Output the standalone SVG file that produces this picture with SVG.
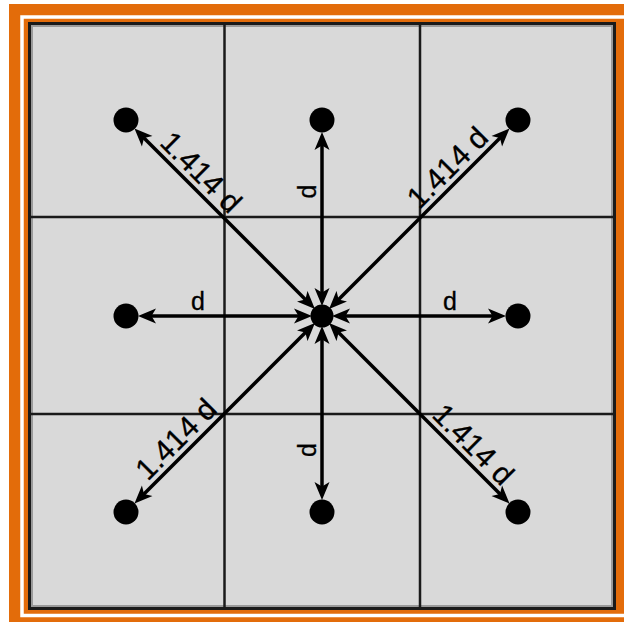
<svg xmlns="http://www.w3.org/2000/svg" width="624" height="625" viewBox="0 0 624 625">
<style>
.grid{stroke:#1a1a1a;stroke-width:2.5;fill:none}
.conn{stroke:#000;stroke-width:3.5;fill:none;marker-start:url(#ah);marker-end:url(#ah)}
.dot{fill:#000}
.lbl{font-family:"Liberation Sans",Arial,sans-serif;font-size:25px;fill:#000;text-anchor:middle;stroke:#000;stroke-width:0.3}
.dlbl{font-family:"Liberation Sans",Arial,sans-serif;font-size:30px;fill:#000;text-anchor:middle;stroke:#000;stroke-width:0.3}
</style>
<defs>
<marker id="ah" viewBox="0 -8 18 16" refX="7" refY="0" markerWidth="18" markerHeight="16" markerUnits="userSpaceOnUse" orient="auto-start-reverse">
<path d="M0,-7.5 L18,0 L0,7.5 L4.5,0 Z" fill="#000"/>
</marker>
</defs>
<g id="frame">
<rect x="9" y="4" width="620" height="618" fill="#E36C0A"/>
<rect x="22" y="17" width="620" height="598.5" fill="none" stroke="#fff" stroke-width="3.5"/>
<rect x="29.5" y="23.5" width="585" height="585" fill="#D9D9D9" stroke="#1a1a1a" stroke-width="3"/>
<rect x="32" y="26" width="580" height="580" fill="none" stroke="#9a9a9a" stroke-width="2"/>
</g>
<g id="grid">
<line class="grid" x1="224.5" y1="24" x2="224.5" y2="608"/>
<line class="grid" x1="420" y1="24" x2="420" y2="608"/>
<line class="grid" x1="30" y1="217" x2="614" y2="217"/>
<line class="grid" x1="30" y1="414" x2="614" y2="414"/>
</g>
<g id="connectors">
<line class="conn" x1="142.26" y1="136.26" x2="307.15" y2="301.15"/>
<line class="conn" x1="501.74" y1="136.26" x2="336.85" y2="301.15"/>
<line class="conn" x1="142.26" y1="495.74" x2="307.15" y2="330.85"/>
<line class="conn" x1="501.74" y1="495.74" x2="336.85" y2="330.85"/>
<line class="conn" x1="322" y1="143" x2="322" y2="295"/>
<line class="conn" x1="322" y1="489" x2="322" y2="337"/>
<line class="conn" x1="149" y1="316" x2="301" y2="316"/>
<line class="conn" x1="495" y1="316" x2="343" y2="316"/>
</g>
<g id="labels">
<text class="lbl" x="198" y="310">d</text>
<text class="lbl" x="450" y="310">d</text>
<text class="lbl" transform="translate(316,191.5) rotate(-90)" x="0" y="0">d</text>
<text class="lbl" transform="translate(316,450) rotate(-90)" x="0" y="0">d</text>
<text class="dlbl" transform="translate(189.6,183.6) rotate(45)" x="0" y="-6">1.414 d</text>
<text class="dlbl" transform="translate(459,179) rotate(-45)" x="0" y="-6">1.414 d</text>
<text class="dlbl" transform="translate(462,456) rotate(45)" x="0" y="-6">1.414 d</text>
<text class="dlbl" transform="translate(187.5,450.5) rotate(-45)" x="0" y="-6">1.414 d</text>
</g>
<g id="node-center"><circle class="dot" cx="322" cy="316" r="11.5"/></g>
<g id="node-tl"><circle class="dot" cx="126" cy="120" r="12.5"/></g>
<g id="node-t"><circle class="dot" cx="322" cy="120" r="12.5"/></g>
<g id="node-tr"><circle class="dot" cx="518" cy="120" r="12.5"/></g>
<g id="node-l"><circle class="dot" cx="126" cy="316" r="12.5"/></g>
<g id="node-r"><circle class="dot" cx="518" cy="316" r="12.5"/></g>
<g id="node-bl"><circle class="dot" cx="126" cy="512" r="12.5"/></g>
<g id="node-b"><circle class="dot" cx="322" cy="512" r="12.5"/></g>
<g id="node-br"><circle class="dot" cx="518" cy="512" r="12.5"/></g>
</svg>
